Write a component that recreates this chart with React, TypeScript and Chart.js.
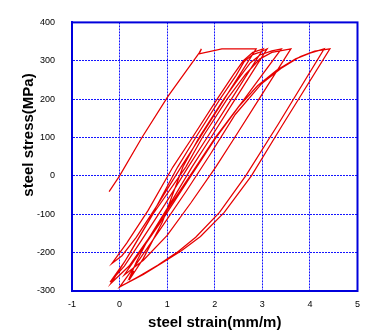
import React, { useEffect, useRef } from 'react';
import { Chart, registerables } from 'chart.js';

Chart.register(...registerables);

type Pt = [number, number];

// strain (mm/m), stress (MPa), branch by branch
const initialLoading: Pt[] = [
  [-0.22, -41], [0, 0], [0.47, 100], [1.02, 208], [1.67, 320], [1.72, 331],
  [1.67, 318], [2.15, 331], [2.87, 331],
];
const unload1: Pt[] = [
  [2.87, 331], [2.2, 200], [1.69, 100], [1.29, 23], [0.8, -75], [0.35, -160], [0.05, -208], [-0.16, -228],
];
const reload1: Pt[] = [
  [-0.16, -228], [0.15, -175], [0.6, -90], [1.12, 23], [1.53, 100], [2.05, 200], [2.4, 265], [2.6, 300], [2.8, 322], [3.02, 331],
];
const unload2: Pt[] = [
  [3.02, 331], [2.35, 200], [1.84, 100], [1.44, 23], [0.95, -75], [0.45, -170], [0.1, -235], [-0.2, -277],
];
const reload2: Pt[] = [
  [-0.2, -277], [0.1, -225], [0.6, -120], [1.22, 23], [1.6, 100], [2.11, 200], [2.45, 262], [2.62, 298], [2.8, 316], [2.92, 321], [3.1, 331],
];
const unload3: Pt[] = [
  [3.1, 331], [2.43, 200], [1.92, 100], [1.52, 23], [1.05, -75], [0.6, -165], [0.35, -225], [0.22, -262], [0.3, -248], [0.2, -272],
];
const reload3: Pt[] = [
  [0.2, -272], [0.5, -215], [0.9, -120], [1.33, 23], [1.67, 100], [2.19, 200], [2.55, 262], [2.75, 295], [2.95, 315], [3.2, 326], [3.4, 331],
];
const unload4: Pt[] = [
  [3.4, 331], [2.62, 200], [2.01, 100], [1.6, 23], [1.1, -70], [0.6, -165], [0.2, -235], [-0.18, -280],
];
const reload4: Pt[] = [
  [-0.18, -280], [0.2, -205], [0.7, -100], [1.39, 23], [1.74, 100], [2.26, 200], [2.65, 265], [2.95, 305], [3.2, 322], [3.6, 331],
];
const unload5: Pt[] = [
  [3.6, 331], [2.93, 200], [2.42, 100], [2.02, 23], [1.5, -70], [1.0, -155], [0.5, -220], [0.1, -258],
];
const reload5: Pt[] = [
  [0.1, -258], [0.45, -195], [0.95, -105], [1.5, 0], [2.0, 95], [2.5, 180], [2.9, 235], [3.3, 275], [3.7, 305], [4.0, 320], [4.3, 331],
];
const unload6: Pt[] = [
  [4.3, 331], [3.33, 134], [2.65, 0], [2.1, -95], [1.6, -160], [1.2, -200], [0.8, -233], [0.4, -262], [0, -290],
];
const reload6: Pt[] = [
  [0, -290], [0.35, -230], [0.85, -140], [1.4, -40], [1.9, 55], [2.43, 160], [2.99, 241], [3.39, 280], [3.8, 311], [4.1, 325], [4.42, 331],
];
const unload7: Pt[] = [
  [4.42, 331], [3.43, 134], [2.77, 0], [2.2, -95], [1.7, -158], [1.3, -195], [0.9, -226], [0.5, -257], [0.02, -288],
];

const branches: Pt[][] = [
  initialLoading, unload1, reload1, unload2, reload2, unload3, reload3,
  unload4, reload4, unload5, reload5, unload6, reload6, unload7,
];

const xTickValues = [-1, 0, 1, 2, 3, 4, 5];
const yTickValues = [-300, -200, -100, 0, 100, 200, 300, 400];
const xTitle = 'steel strain(mm/m)';
const yTitle = 'steel stress(MPa)';

const BLUE = 'rgb(20,20,255)';
const FONT = "'Liberation Sans', Arial, sans-serif";

export default function App() {
  const ref = useRef<HTMLCanvasElement | null>(null);

  useEffect(() => {
    document.body.style.margin = '0';
    const canvas = ref.current;
    if (!canvas) return;

    const path: { x: number; y: number }[] = [];
    branches.forEach((b, i) => {
      b.forEach((p, j) => {
        if (i > 0 && j === 0) return;
        path.push({ x: p[0], y: p[1] });
      });
    });

    const framePlugin = {
      id: 'frameAndTitle',
      afterDraw(chart: any) {
        const { ctx, chartArea } = chart;
        ctx.save();
        ctx.strokeStyle = 'rgb(0,0,220)';
        ctx.lineWidth = 2;
        ctx.setLineDash([]);
        ctx.strokeRect(chartArea.left, chartArea.top, chartArea.right - chartArea.left, chartArea.bottom - chartArea.top);
        ctx.translate(29, 135);
        ctx.rotate(-Math.PI / 2);
        ctx.fillStyle = '#000';
        ctx.font = `bold 15px ${FONT}`;
        ctx.textAlign = 'center';
        ctx.textBaseline = 'middle';
        ctx.fillText(yTitle, 0, 0);
        ctx.restore();
      },
    };

    const chart = new Chart(canvas, {
      type: 'scatter',
      data: {
        datasets: [
          {
            data: path,
            showLine: true,
            borderColor: 'rgb(230,0,0)',
            borderWidth: 1.25,
            pointRadius: 0,
            fill: false,
            tension: 0,
          },
        ],
      },
      options: {
        animation: false,
        responsive: false,
        devicePixelRatio: 1,
        layout: { padding: { top: 7, right: 5, left: 0, bottom: 0 } },
        plugins: {
          legend: { display: false },
          tooltip: { enabled: false },
        },
        scales: {
          x: {
            type: 'linear',
            min: -1,
            max: 5,
            afterBuildTicks: (s: any) => {
              s.ticks = xTickValues.map((v) => ({ value: v }));
            },
            afterFit: (s: any) => {
              s.height = 42;
            },
            ticks: {
              color: '#000',
              font: { family: FONT, size: 9 },
              padding: 8,
              maxRotation: 0,
            },
            grid: { color: BLUE, lineWidth: 1, drawTicks: false },
            border: { display: true, color: BLUE, width: 2, dash: [2, 1] },
            title: {
              display: true,
              text: xTitle,
              color: '#000',
              font: { family: FONT, size: 15, weight: 'bold' },
              padding: { top: 0, bottom: 1 },
            },
          },
          y: {
            type: 'linear',
            min: -300,
            max: 400,
            afterBuildTicks: (s: any) => {
              s.ticks = yTickValues.map((v) => ({ value: v }));
            },
            afterFit: (s: any) => {
              s.width = 72;
            },
            ticks: {
              color: '#000',
              font: { family: FONT, size: 9 },
              padding: 17,
            },
            grid: { color: BLUE, lineWidth: 1, drawTicks: false },
            border: { display: true, color: BLUE, width: 2, dash: [2, 1] },
          },
        },
      },
      plugins: [framePlugin],
    } as any);

    return () => {
      chart.destroy();
    };
  }, []);

  return (
    <div style={{ width: 368, height: 333 }}>
      <canvas ref={ref} width={368} height={333} style={{ display: 'block' }} />
    </div>
  );
}
